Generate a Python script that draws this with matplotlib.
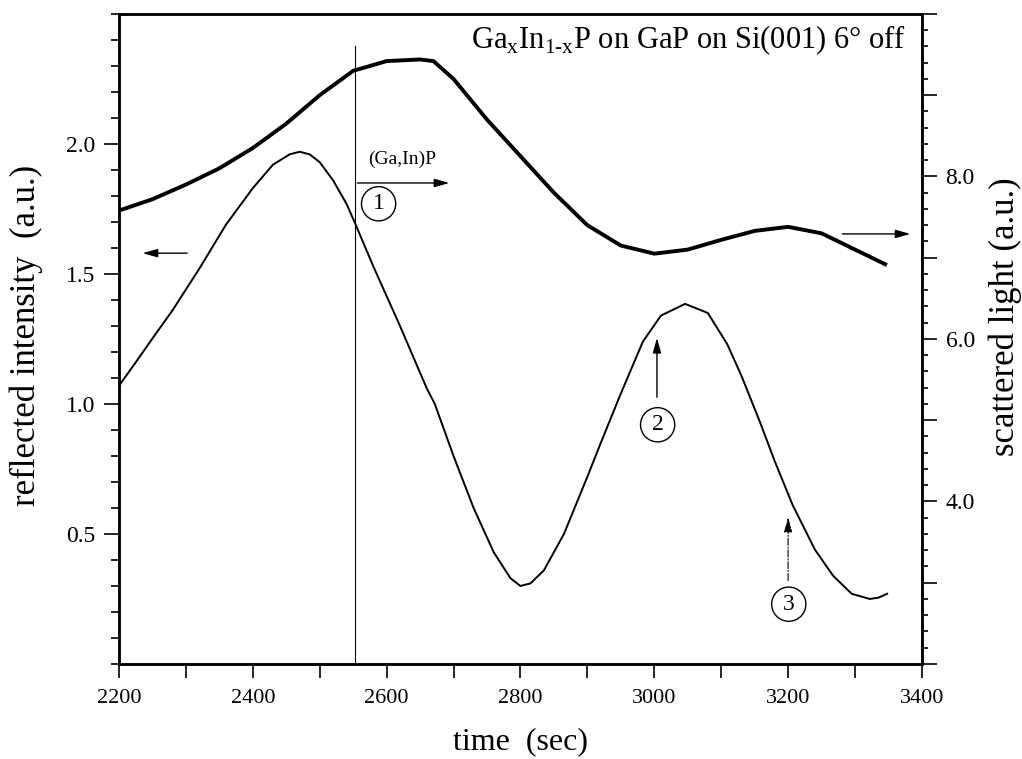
#Reflectance / scattered light transient, (Ga,In)P growth

#Importing_Libraries
import matplotlib
matplotlib.use('Agg')
import matplotlib.pyplot as plt
from matplotlib.ticker import MultipleLocator, FixedLocator, FuncFormatter

plt.rcParams['font.family'] = ['Liberation Serif', 'DejaVu Serif']
plt.rcParams['mathtext.fontset'] = 'custom'
plt.rcParams['mathtext.rm'] = 'Liberation Serif'

#Data
# reflected intensity (left axis, thin line)
t_refl = [2200, 2225, 2255, 2280, 2320, 2360, 2400, 2430, 2455, 2470, 2485,
          2500, 2520, 2540, 2552, 2580, 2620, 2660, 2672, 2700, 2730, 2760,
          2785, 2800, 2815, 2835, 2865, 2900, 2920, 2950, 2983, 3010, 3046,
          3080, 3109, 3130, 3158, 3180, 3207, 3240, 3267, 3295, 3322, 3335, 3348]
refl = [1.07, 1.16, 1.27, 1.36, 1.52, 1.69, 1.83, 1.92, 1.96, 1.97, 1.96,
        1.93, 1.86, 1.77, 1.70, 1.53, 1.30, 1.06, 1.00, 0.80, 0.60, 0.43,
        0.33, 0.30, 0.31, 0.36, 0.50, 0.72, 0.85, 1.04, 1.24, 1.34, 1.385,
        1.35, 1.23, 1.11, 0.93, 0.78, 0.61, 0.44, 0.34, 0.27, 0.25, 0.255, 0.27]

# scattered light (right axis, thick noisy line)
t_scat = [2200, 2250, 2300, 2350, 2400, 2450, 2500, 2550, 2600, 2650, 2670,
          2700, 2750, 2800, 2850, 2900, 2950, 3000, 3050, 3100, 3150, 3200,
          3250, 3300, 3345]
scat = [7.58, 7.72, 7.90, 8.10, 8.35, 8.65, 9.00, 9.30, 9.42, 9.44, 9.42,
        9.20, 8.70, 8.25, 7.80, 7.40, 7.15, 7.05, 7.10, 7.22, 7.33, 7.38,
        7.30, 7.10, 6.92]

t_start = 2552  # start of (Ga,In)P growth

#Figure
fig = plt.figure(figsize=(10.22, 7.59), dpi=100)
ax = fig.add_axes([0.1164, 0.1252, 0.7857, 0.8564])
ax2 = ax.twinx()

ax.plot(t_refl, refl, color='black', lw=1.4)
ax2.plot(t_scat, scat, color='black', lw=2.8)

ax.axvline(t_start, ymin=0, ymax=0.95, color='black', lw=0.8)

ax.set_xlim(2200, 3400)
ax.set_ylim(0, 2.5)
ax2.set_ylim(2, 10)

#Ticks
ax.xaxis.set_major_locator(MultipleLocator(200))
ax.xaxis.set_minor_locator(MultipleLocator(100))
ax.yaxis.set_major_locator(FixedLocator([0.5, 1.0, 1.5, 2.0]))
ax.yaxis.set_minor_locator(MultipleLocator(0.1))
ax.yaxis.set_major_formatter(FuncFormatter(lambda v, p: '%.1f' % v))
ax.tick_params(axis='x', which='both', direction='out', length=10, width=1.2,
               labelsize=16, pad=8, top=False)
ax.tick_params(axis='y', which='major', direction='out', length=11, width=1.2,
               labelsize=17, pad=6)
ax.tick_params(axis='y', which='minor', direction='out', length=6, width=1.2)

ax2.yaxis.set_major_locator(MultipleLocator(1))
ax2.yaxis.set_minor_locator(MultipleLocator(0.2))
ax2.yaxis.set_major_formatter(
    FuncFormatter(lambda v, p: '%.1f' % v if v in (4, 6, 8) else ''))
ax2.tick_params(axis='y', which='major', direction='out', length=11, width=1.2,
                labelsize=17, pad=6)
ax2.tick_params(axis='y', which='minor', direction='out', length=4.5, width=1.2)

for a in (ax, ax2):
    for s in a.spines.values():
        s.set_linewidth(1.8)

ax.set_xlabel('time  (sec)', fontsize=23, labelpad=14)
ax.set_ylabel('reflected intensity  (a.u.)', fontsize=25)
ax.yaxis.set_label_coords(-0.094, 0.506)
ax2.set_ylabel('scattered light (a.u.)', fontsize=25, rotation=90)
ax2.yaxis.set_label_coords(1.083, 0.535)

#Annotations
ax.text(0.98, 0.948,
        'Ga$_\\mathregular{x}$In$_\\mathregular{1\u2010x}$P on GaP on Si(001) 6° off',
        transform=ax.transAxes, ha='right', va='baseline', fontsize=22)
ax.text(2572, 1.94, '(Ga,In)P', fontsize=14, va='center')

arrow = dict(arrowstyle='-|>,head_length=0.9,head_width=0.25', color='black', lw=1)
ax.annotate('', xy=(2698, 1.85), xytext=(t_start, 1.85), arrowprops=arrow)
ax.annotate('', xy=(2231, 1.58), xytext=(2306, 1.58), arrowprops=arrow)
ax.annotate('', xy=(3387, 1.654), xytext=(3277, 1.654), arrowprops=arrow)
ax.annotate('', xy=(3004, 1.265), xytext=(3004, 1.015), arrowprops=arrow)
ax.annotate('', xy=(3200, 0.575), xytext=(3200, 0.31),
            arrowprops=dict(arrowstyle='-|>,head_length=0.9,head_width=0.25',
                            color='black', lw=0.8, linestyle='-.'))

circ = dict(boxstyle='circle,pad=0.28', fc='white', ec='black', lw=1)
ax.text(2588, 1.77, '1', fontsize=17, ha='center', va='center', bbox=circ)
ax.text(3005, 0.92, '2', fontsize=17, ha='center', va='center', bbox=circ)
ax.text(3201, 0.23, '3', fontsize=17, ha='center', va='center', bbox=circ)

plt.savefig('out.png', dpi=100)
